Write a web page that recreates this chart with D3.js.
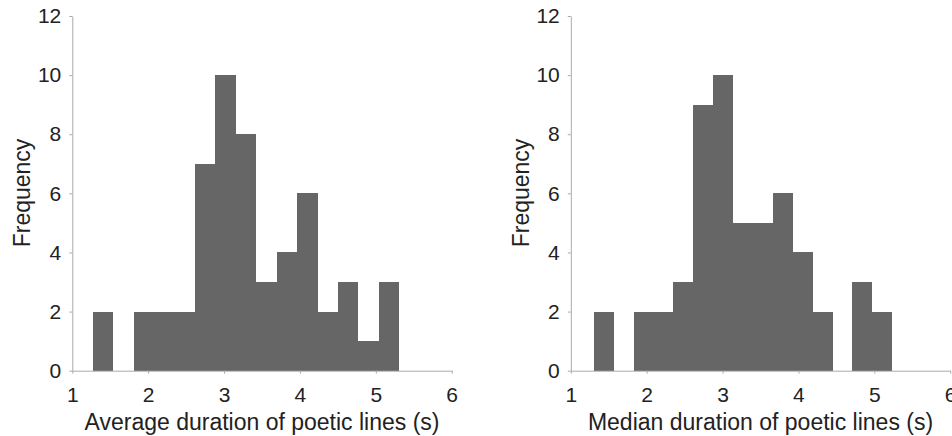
<!DOCTYPE html>
<html>
<head>
<meta charset="utf-8">
<script src="https://cdn.jsdelivr.net/npm/d3@7"></script>
<style>
  body { margin: 0; background: #fff; }
  svg { display: block; font-family: "Liberation Sans", Arial, sans-serif; }
</style>
</head>
<body>
<svg id="svg1" width="952" height="436"></svg>
<script>
// histogram data

var avgEdges = [1.272, 1.541, 1.810, 2.079, 2.348, 2.617, 2.887, 3.156, 3.425, 3.694, 3.963, 4.232, 4.501, 4.770, 5.039, 5.308];
var avgCounts = [2, 0, 2, 2, 2, 7, 10, 8, 3, 4, 6, 2, 3, 1, 3];

var medEdges = [1.303, 1.565, 1.827, 2.090, 2.352, 2.614, 2.876, 3.138, 3.401, 3.663, 3.925, 4.187, 4.449, 4.712, 4.974, 5.236];
var medCounts = [2, 0, 2, 2, 3, 9, 10, 5, 5, 6, 4, 2, 0, 3, 2];

var xTicks = [1, 2, 3, 4, 5, 6];
var yTicks = [0, 2, 4, 6, 8, 10, 12];

var svg = d3.select("#svg1");

function drawHist(left, edges, counts, xTitle)
{
    var top = 16, bottom = 370.7, width = 379.4;

    var x = d3.scaleLinear().domain([1, 6]).range([left, left + width]);
    var y = d3.scaleLinear().domain([0, 12]).range([bottom, top]);

    var bins = counts.map(function (c, i) {
        return { x0: edges[i], x1: edges[i + 1], n: c };
    });

    var g = svg.append("g");

    g.selectAll("rect")
        .data(bins.filter(function (b) { return b.n > 0; }))
        .enter().append("rect")
        .attr("x", function (b) { return x(b.x0); })
        .attr("width", function (b) { return x(b.x1) - x(b.x0); })
        .attr("y", function (b) { return y(b.n); })
        .attr("height", function (b) { return y(0) - y(b.n); })
        .attr("fill", "#666666")
        .attr("shape-rendering", "crispEdges");

    var xAxis = g.append("g")
        .attr("transform", "translate(0," + bottom + ")")
        .call(d3.axisBottom(x).tickValues(xTicks).tickFormat(d3.format("d"))
            .tickSize(3).tickPadding(13).tickSizeOuter(0));

    var yAxis = g.append("g")
        .attr("transform", "translate(" + left + ",0)")
        .call(d3.axisLeft(y).tickValues(yTicks).tickFormat(d3.format("d"))
            .tickSize(3).tickPadding(8).tickSizeOuter(0));

    [xAxis, yAxis].forEach(function (a) {
        a.select(".domain").attr("stroke", "#aaaaaa");
        a.selectAll(".tick line").attr("stroke", "#aaaaaa");
        a.selectAll(".tick text")
            .attr("fill", "#222")
            .style("font-size", "21px");
    });

    g.append("text")
        .attr("x", left + width / 2)
        .attr("y", 430)
        .attr("text-anchor", "middle")
        .attr("fill", "#222")
        .style("font-size", "23px")
        .text(xTitle);

    g.append("text")
        .attr("transform", "translate(" + (left - 42) + "," + 193 + ") rotate(-90)")
        .attr("text-anchor", "middle")
        .attr("fill", "#222")
        .style("font-size", "23px")
        .text("Frequency");
}

drawHist(72.3, avgEdges, avgCounts, "Average duration of poetic lines (s)");
drawHist(570.8, medEdges, medCounts, "Median duration of poetic lines (s)");
</script>
</body>
</html>
